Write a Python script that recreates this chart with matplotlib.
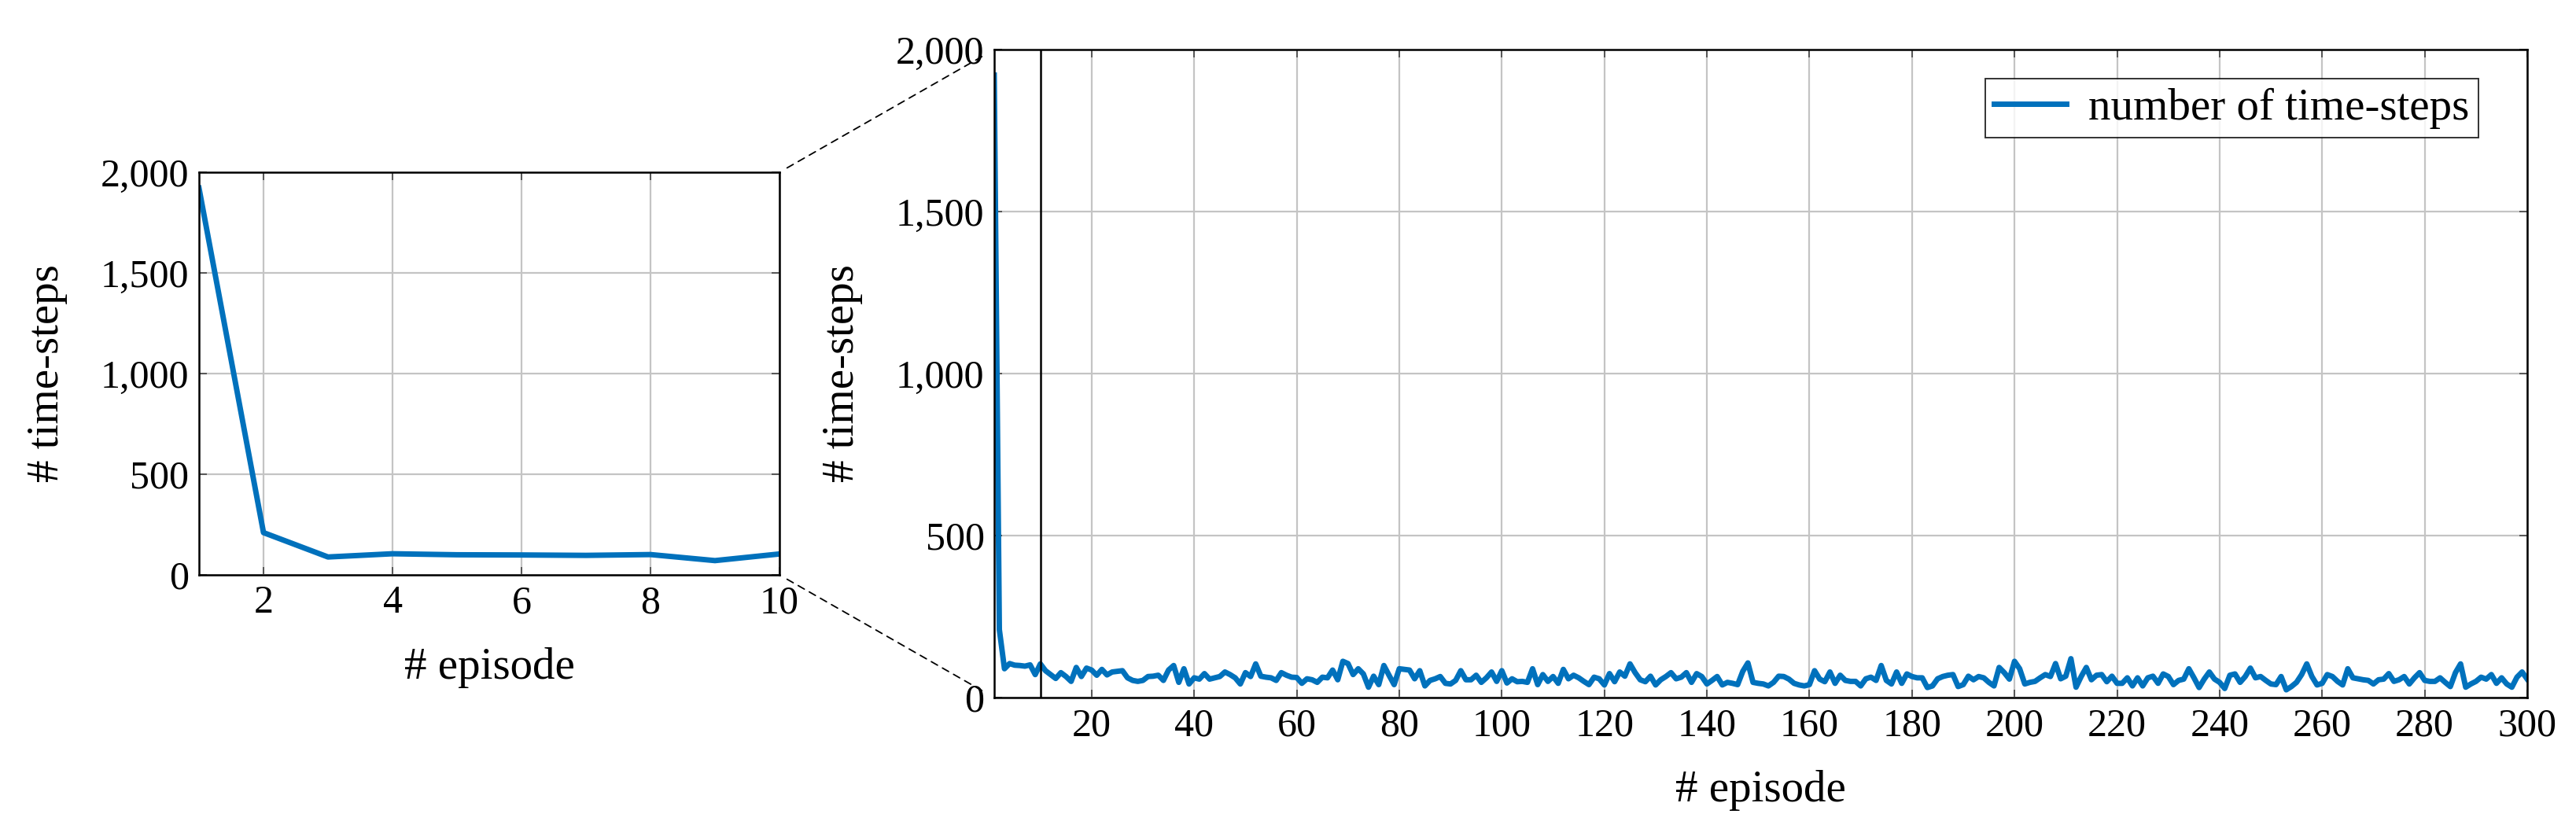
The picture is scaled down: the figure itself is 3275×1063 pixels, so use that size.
import matplotlib
matplotlib.use("Agg")
import matplotlib.pyplot as plt
from matplotlib.patches import ConnectionPatch
from matplotlib.ticker import FuncFormatter
import numpy as np

plt.rcParams['font.family'] = ['Liberation Serif', 'DejaVu Serif']

# ---- data ----
timesteps = [
    1921, 210, 89, 105, 100, 99, 97, 101, 71, 104,
    83, 71, 59, 77, 65, 50, 93, 65, 91, 85,
    69, 87, 70, 79, 81, 83, 61, 53, 50, 53,
    65, 66, 69, 53, 85, 99, 47, 89, 42, 61,
    57, 74, 57, 61, 65, 79, 71, 61, 42, 77,
    65, 104, 66, 63, 61, 53, 77, 69, 63, 62,
    44, 58, 55, 47, 63, 61, 85, 55, 112, 105,
    71, 89, 73, 32, 66, 40, 99, 69, 40, 89,
    87, 85, 58, 83, 36, 53, 58, 65, 44, 42,
    53, 83, 55, 55, 69, 47, 61, 79, 50, 83,
    45, 58, 49, 50, 47, 89, 40, 71, 50, 65,
    44, 87, 58, 69, 61, 50, 40, 63, 58, 39,
    74, 49, 79, 66, 104, 77, 55, 49, 66, 39,
    55, 65, 77, 58, 63, 77, 47, 74, 65, 42,
    53, 65, 39, 47, 44, 40, 81, 107, 47, 44,
    42, 36, 47, 66, 65, 57, 44, 39, 36, 40,
    83, 57, 49, 79, 44, 69, 53, 50, 50, 36,
    58, 63, 53, 99, 53, 42, 79, 44, 73, 65,
    61, 61, 31, 36, 58, 65, 69, 71, 34, 40,
    66, 55, 65, 61, 47, 36, 93, 77, 57, 112,
    89, 42, 47, 50, 61, 71, 65, 105, 58, 66,
    120, 32, 65, 93, 55, 69, 71, 49, 66, 44,
    44, 61, 36, 61, 36, 61, 66, 44, 73, 65,
    40, 53, 57, 89, 61, 31, 57, 79, 57, 47,
    28, 69, 73, 47, 65, 91, 61, 65, 53, 42,
    40, 65, 24, 34, 47, 71, 104, 65, 39, 44,
    71, 65, 50, 39, 89, 61, 58, 55, 53, 42,
    55, 57, 74, 50, 55, 65, 42, 61, 77, 53,
    50, 50, 61, 47, 34, 77, 104, 32, 42, 50,
    63, 57, 71, 44, 61, 42, 32, 63, 79, 57,
]
episodes = list(range(1, len(timesteps) + 1))
zoom_n = 10
main_xticks = list(range(20, 301, 20))
zoom_xticks = [2, 4, 6, 8, 10]
yticks = [0, 500, 1000, 1500, 2000]
series_label = "number of time-steps"
xlabel = "# episode"
ylabel = "# time-steps"

# ---- style ----
BLUE = '#0071bc'
FS_TICK = 36
FS_LAB = 41
LW = 5.0
GRID = '#c4c4c4'

fig = plt.figure(figsize=(32.75, 10.63), dpi=100)
ax_z = fig.add_axes([253/3275, 1 - 731/1063, 738/3275, 512/1063])
ax_m = fig.add_axes([1264/3275, 1 - 887/1063, 1949/3275, 824/1063])

fmt = FuncFormatter(lambda v, p: f"{int(v):,}")

def style(ax):
    ax.grid(True, color=GRID, linewidth=1.6)
    ax.set_axisbelow(True)
    for s in ax.spines.values():
        s.set_linewidth(1.8)
        s.set_color('black')
    ax.tick_params(axis='both', which='both', direction='in', length=7,
                   width=1.4, color='#555555', labelsize=FS_TICK, top=True, right=True,
                   pad=9)
    ax.yaxis.set_major_formatter(fmt)
    ax.set_yticks(yticks)
    ax.set_ylim(0, 2000)
    ax.set_xlabel(xlabel, fontsize=FS_LAB, labelpad=24)
    ax.set_ylabel(ylabel, fontsize=FS_LAB, labelpad=30)

# zoom axes
ax_z.plot(episodes[:zoom_n], timesteps[:zoom_n], color=BLUE, linewidth=LW,
          solid_joinstyle='round')
ax_z.set_xlim(1, zoom_n)
ax_z.set_xticks(zoom_xticks)
style(ax_z)

# main axes
ax_m.plot(episodes, timesteps, color=BLUE, linewidth=LW, label=series_label,
          solid_joinstyle='round')
ax_m.set_xlim(1, len(timesteps))
ax_m.set_xticks(main_xticks)
style(ax_m)
ax_m.axvline(zoom_n, color='black', linewidth=1.8)

leg = ax_m.legend(loc='upper right', bbox_to_anchor=(0.968, 0.955),
                  borderaxespad=0, fontsize=FS_LAB, frameon=True, fancybox=False,
                  handlelength=1.6, borderpad=0.2, handletextpad=0.5)
leg.get_frame().set_edgecolor('black')
leg.get_frame().set_linewidth(1.4)

# dashed connectors
for yy in (1, 0):
    con = ConnectionPatch(xyA=(1, yy), coordsA=ax_z.transAxes,
                          xyB=(0, yy), coordsB=ax_m.transAxes,
                          linestyle=(0, (5, 4)), color='black', linewidth=1.3,
                          shrinkA=8, shrinkB=8)
    fig.add_artist(con)

fig.savefig("out.png", dpi=100)
